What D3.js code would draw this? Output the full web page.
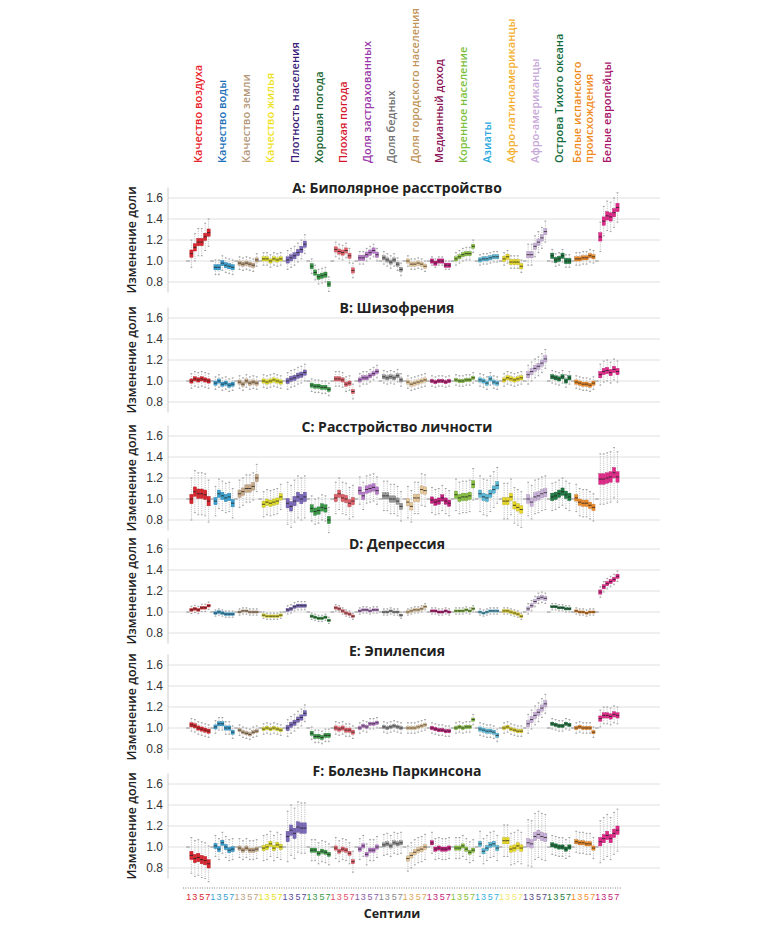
<!DOCTYPE html>
<html>
<head>
<meta charset="utf-8">
<script src="https://cdn.jsdelivr.net/npm/d3@7"></script>
<style>
  body { margin: 0; background: #fff; }
</style>
</head>
<body>
<svg id="chart"></svg>
<script>
// Categories (top labels), one group of 7 septiles each
const categories = [
  "Качество воздуха", "Качество воды", "Качество земли", "Качество жилья",
  "Плотность населения", "Хорошая погода", "Плохая погода", "Доля застрахованных",
  "Доля бедных", "Доля городского населения", "Медианный доход", "Коренное население",
  "Азиаты", "Афро-латиноамериканцы", "Афро-американцы", "Острова Тихого океана",
  "Белые испанского|происхождения", "Белые европейцы"
];
const labelColors = ["#e8202a", "#1a6fb8", "#b5987a", "#eee21e", "#3c1a78", "#1a6630",
  "#d6182e", "#9a3aaa", "#707070", "#c0945a", "#8c1458", "#7cc040",
  "#28a8e0", "#f4b030", "#c8a8d8", "#0f6a3a", "#f08a1a", "#a8146a"];
const boxColors = ["#d9262e", "#3aa0d0", "#c8aa88", "#e0dc2a", "#7a68b8", "#3a9a48",
  "#e0606a", "#b678c8", "#999999", "#e8c898", "#c41c7c", "#88c040",
  "#5ab8d8", "#e8d828", "#c8b0d8", "#1e7a40", "#ec8a28", "#e02888"];
const tickColors = ["#d9262e", "#3aa0d0", "#c0a080", "#e8e020", "#5a4a9a", "#3a9a48",
  "#e0506a", "#8a5aaa", "#888888", "#e0a860", "#c41c7c", "#88c040",
  "#3ab0e0", "#f0e870", "#5a4a8a", "#1e7a40", "#f09030", "#c41c7c"];

const septileTicks = [1, 3, 5, 7];
const yTicks = [0.8, 1.0, 1.2, 1.4, 1.6];
const panelTitles = ["A: Биполярное расстройство", "B: Шизофрения", "C: Расстройство личности",
  "D: Депрессия", "E: Эпилепсия", "F: Болезнь Паркинсона"];

// Median ratio per septile (septile 1 = reference 1.0)
const bipolar = [
  [1.0, 1.07, 1.13, 1.18, 1.18, 1.23, 1.27],
  [1.0, 0.94, 0.94, 0.98, 0.96, 0.95, 0.94],
  [1.0, 0.98, 0.97, 0.98, 0.97, 0.96, 1.01],
  [1.0, 1.02, 1.02, 1.00, 1.02, 1.01, 1.02],
  [1.0, 1.01, 1.03, 1.05, 1.08, 1.11, 1.16],
  [1.0, 0.95, 0.89, 0.85, 0.86, 0.87, 0.78],
  [1.0, 1.11, 1.09, 1.08, 1.10, 1.05, 0.91],
  [1.0, 1.03, 1.03, 1.06, 1.08, 1.10, 1.06],
  [1.0, 1.03, 1.01, 0.99, 1.01, 0.97, 0.92],
  [1.0, 1.00, 0.97, 0.97, 0.98, 0.97, 0.95],
  [1.0, 1.00, 0.98, 1.00, 1.00, 0.96, 0.96],
  [1.0, 1.02, 1.04, 1.06, 1.07, 1.07, 1.14],
  [1.0, 1.01, 1.02, 1.02, 1.03, 1.04, 1.04],
  [1.0, 1.02, 1.04, 0.99, 0.99, 0.99, 0.95],
  [1.0, 1.06, 1.06, 1.14, 1.18, 1.22, 1.28],
  [1.0, 1.05, 1.01, 1.02, 1.05, 1.00, 1.00],
  [1.0, 1.02, 1.02, 1.03, 1.03, 1.05, 1.04],
  [1.0, 1.23, 1.38, 1.43, 1.42, 1.46, 1.51]
];
const bipolarBox = [0.035, 0.025, 0.02, 0.02, 0.03, 0.025, 0.025, 0.025, 0.02, 0.02, 0.02, 0.02, 0.02, 0.025, 0.03, 0.025, 0.02, 0.04];
const bipolarWhisker = [0.13, 0.07, 0.06, 0.06, 0.09, 0.07, 0.07, 0.06, 0.06, 0.05, 0.04, 0.06, 0.05, 0.06, 0.1, 0.06, 0.06, 0.14];

const schizo = [
  [1.0, 1.00, 1.02, 1.01, 1.02, 1.01, 1.00],
  [1.0, 0.98, 1.00, 0.97, 0.98, 0.96, 0.97],
  [1.0, 0.99, 0.97, 1.00, 0.98, 0.99, 0.98],
  [1.0, 1.00, 0.99, 1.00, 1.01, 1.00, 0.99],
  [1.0, 1.00, 1.02, 1.03, 1.05, 1.06, 1.08],
  [1.0, 0.96, 0.95, 0.95, 0.94, 0.94, 0.92],
  [1.0, 1.02, 1.02, 1.01, 0.97, 0.98, 0.90],
  [1.0, 1.01, 1.03, 1.03, 1.05, 1.07, 1.09],
  [1.0, 1.04, 1.03, 1.04, 1.03, 1.05, 1.01],
  [1.0, 0.99, 0.97, 0.98, 0.99, 1.00, 1.01],
  [1.0, 1.00, 0.99, 1.00, 1.00, 0.99, 1.00],
  [1.0, 1.01, 1.00, 1.00, 1.01, 1.01, 1.03],
  [1.0, 1.01, 1.00, 0.98, 1.02, 0.99, 0.98],
  [1.0, 1.01, 1.03, 1.02, 1.01, 1.02, 1.03],
  [1.0, 1.06, 1.09, 1.12, 1.14, 1.17, 1.21],
  [1.0, 1.04, 1.03, 1.02, 1.04, 1.00, 1.03],
  [1.0, 0.99, 0.98, 0.97, 0.97, 0.96, 0.98],
  [1.0, 1.06, 1.09, 1.10, 1.08, 1.11, 1.09]
];
const schizoBox = [0.02, 0.02, 0.02, 0.02, 0.025, 0.02, 0.02, 0.02, 0.02, 0.02, 0.015, 0.015, 0.02, 0.02, 0.03, 0.02, 0.02, 0.03];
const schizoWhisker = [0.07, 0.06, 0.06, 0.06, 0.08, 0.06, 0.07, 0.06, 0.06, 0.06, 0.05, 0.05, 0.06, 0.06, 0.09, 0.06, 0.06, 0.1];

const personality = [
  [1.0, 1.00, 1.07, 1.05, 1.05, 1.04, 0.98],
  [1.0, 0.98, 1.05, 1.03, 1.01, 1.02, 0.96],
  [1.0, 1.05, 1.07, 1.10, 1.10, 1.12, 1.20],
  [1.0, 0.95, 0.97, 0.96, 0.97, 0.98, 1.02],
  [1.0, 0.96, 0.93, 0.98, 1.02, 1.00, 1.02],
  [1.0, 0.91, 0.88, 0.89, 0.92, 0.91, 0.80],
  [1.0, 1.01, 1.05, 1.01, 1.00, 0.96, 0.98],
  [1.0, 1.08, 1.03, 1.09, 1.10, 1.11, 1.08],
  [1.0, 1.03, 1.03, 1.00, 1.00, 0.98, 0.93],
  [1.0, 0.97, 0.93, 1.01, 1.01, 1.09, 1.08],
  [1.0, 0.99, 0.97, 0.98, 1.01, 0.98, 0.96],
  [1.0, 1.04, 1.01, 1.02, 1.02, 1.03, 1.14],
  [1.0, 1.05, 1.02, 1.01, 1.05, 1.09, 1.13],
  [1.0, 0.98, 0.98, 1.02, 0.94, 0.92, 0.90],
  [1.0, 1.00, 0.97, 1.02, 1.03, 1.05, 1.06],
  [1.0, 1.02, 1.03, 1.05, 1.07, 1.04, 1.02],
  [1.0, 1.01, 0.97, 0.96, 0.96, 0.94, 0.92],
  [1.0, 1.19, 1.19, 1.20, 1.21, 1.25, 1.21]
];
const personalityBox = [0.045, 0.035, 0.035, 0.03, 0.045, 0.035, 0.035, 0.035, 0.03, 0.035, 0.03, 0.035, 0.035, 0.035, 0.04, 0.035, 0.03, 0.05];
const personalityWhisker = [0.2, 0.14, 0.13, 0.12, 0.2, 0.12, 0.15, 0.13, 0.14, 0.15, 0.12, 0.15, 0.17, 0.17, 0.16, 0.13, 0.13, 0.24];

const depression = [
  [1.0, 1.02, 1.03, 1.02, 1.04, 1.04, 1.06],
  [1.0, 0.99, 1.00, 0.99, 0.98, 0.98, 0.98],
  [1.0, 1.00, 1.01, 1.01, 1.00, 1.00, 1.00],
  [1.0, 0.97, 0.96, 0.96, 0.96, 0.96, 0.97],
  [1.0, 1.02, 1.03, 1.05, 1.06, 1.06, 1.06],
  [1.0, 0.96, 0.95, 0.94, 0.94, 0.95, 0.92],
  [1.0, 1.04, 1.03, 1.01, 0.99, 0.98, 0.96],
  [1.0, 1.01, 1.02, 1.02, 1.01, 1.02, 1.02],
  [1.0, 1.00, 1.00, 1.01, 1.00, 1.00, 0.97],
  [1.0, 1.00, 1.01, 1.02, 1.02, 1.03, 1.05],
  [1.0, 1.01, 1.01, 1.00, 1.00, 1.01, 1.00],
  [1.0, 1.01, 1.01, 1.01, 1.02, 1.01, 1.03],
  [1.0, 1.00, 0.99, 1.00, 1.01, 1.01, 1.01],
  [1.0, 1.01, 1.01, 1.00, 0.99, 0.98, 0.96],
  [1.0, 1.03, 1.06, 1.10, 1.13, 1.14, 1.13],
  [1.0, 1.05, 1.05, 1.04, 1.04, 1.03, 1.03],
  [1.0, 1.01, 1.00, 1.00, 0.99, 1.00, 1.00],
  [1.0, 1.19, 1.24, 1.27, 1.29, 1.31, 1.34]
];
const depressionBox = [0.012, 0.012, 0.01, 0.012, 0.015, 0.012, 0.012, 0.01, 0.01, 0.012, 0.01, 0.01, 0.01, 0.012, 0.018, 0.01, 0.01, 0.02];
const depressionWhisker = [0.035, 0.03, 0.03, 0.03, 0.04, 0.03, 0.03, 0.03, 0.03, 0.03, 0.03, 0.03, 0.03, 0.03, 0.05, 0.03, 0.03, 0.05];

const epilepsy = [
  [1.0, 1.03, 1.02, 1.00, 0.99, 0.98, 0.97],
  [1.0, 1.01, 1.04, 1.04, 1.00, 1.00, 0.96],
  [1.0, 0.98, 0.96, 0.95, 0.94, 0.96, 0.97],
  [1.0, 0.99, 1.00, 0.99, 1.00, 0.99, 0.98],
  [1.0, 1.00, 1.03, 1.05, 1.08, 1.10, 1.14],
  [1.0, 0.95, 0.92, 0.92, 0.91, 0.93, 0.93],
  [1.0, 1.00, 0.99, 1.00, 0.98, 0.98, 0.96],
  [1.0, 1.00, 1.02, 1.01, 1.04, 1.04, 1.05],
  [1.0, 1.01, 1.00, 1.01, 1.02, 1.01, 1.00],
  [1.0, 1.00, 1.00, 1.00, 1.01, 1.02, 1.03],
  [1.0, 1.00, 0.99, 0.98, 0.98, 0.97, 0.97],
  [1.0, 1.00, 1.01, 1.00, 1.01, 1.01, 1.08],
  [1.0, 0.99, 0.98, 0.97, 0.97, 0.96, 0.93],
  [1.0, 1.00, 1.01, 0.99, 0.98, 0.97, 0.97],
  [1.0, 1.04, 1.08, 1.12, 1.15, 1.19, 1.23],
  [1.0, 1.04, 1.03, 1.02, 1.02, 1.04, 1.03],
  [1.0, 1.00, 1.01, 1.00, 1.00, 1.00, 0.96],
  [1.0, 1.09, 1.12, 1.12, 1.11, 1.13, 1.12]
];
const epilepsyBox = [0.02, 0.02, 0.015, 0.015, 0.025, 0.02, 0.02, 0.015, 0.015, 0.015, 0.015, 0.015, 0.02, 0.015, 0.03, 0.015, 0.015, 0.025];
const epilepsyWhisker = [0.06, 0.06, 0.05, 0.05, 0.08, 0.06, 0.06, 0.05, 0.05, 0.05, 0.05, 0.05, 0.06, 0.05, 0.09, 0.05, 0.05, 0.08];

const parkinson = [
  [1.0, 0.92, 0.89, 0.90, 0.88, 0.87, 0.84],
  [1.0, 1.01, 0.98, 1.04, 1.00, 0.97, 0.98],
  [1.0, 0.99, 0.97, 0.99, 0.97, 0.97, 0.98],
  [1.0, 0.99, 1.00, 1.03, 0.99, 1.02, 1.00],
  [1.0, 1.10, 1.16, 1.13, 1.19, 1.18, 1.18],
  [1.0, 0.97, 0.97, 0.94, 0.96, 0.95, 0.93],
  [1.0, 0.99, 0.96, 0.98, 0.97, 0.94, 0.86],
  [1.0, 0.98, 1.01, 0.93, 0.97, 0.97, 1.00],
  [1.0, 1.02, 1.03, 1.01, 1.04, 1.03, 1.04],
  [1.0, 0.89, 0.92, 0.95, 0.97, 0.98, 1.00],
  [1.0, 1.04, 0.98, 0.99, 0.98, 0.98, 0.99],
  [1.0, 0.99, 0.99, 1.01, 0.98, 0.95, 0.97],
  [1.0, 1.03, 0.96, 0.99, 1.02, 1.03, 0.99],
  [1.0, 1.06, 1.06, 0.98, 0.99, 1.01, 0.99],
  [1.0, 1.04, 1.03, 1.10, 1.12, 1.10, 1.09],
  [1.0, 1.02, 1.01, 1.00, 1.00, 0.98, 1.00],
  [1.0, 1.05, 1.04, 1.04, 1.03, 1.03, 0.99],
  [1.0, 1.05, 1.08, 1.11, 1.08, 1.13, 1.16]
];
const parkinsonBox = [0.04, 0.025, 0.02, 0.025, 0.05, 0.02, 0.02, 0.02, 0.02, 0.025, 0.02, 0.02, 0.025, 0.03, 0.04, 0.02, 0.02, 0.04];
const parkinsonWhisker = [0.17, 0.1, 0.09, 0.12, 0.24, 0.1, 0.1, 0.1, 0.1, 0.12, 0.1, 0.1, 0.12, 0.15, 0.22, 0.09, 0.1, 0.2];

const panels = [
  { med: bipolar, box: bipolarBox, whisk: bipolarWhisker },
  { med: schizo, box: schizoBox, whisk: schizoWhisker },
  { med: personality, box: personalityBox, whisk: personalityWhisker },
  { med: depression, box: depressionBox, whisk: depressionWhisker },
  { med: epilepsy, box: epilepsyBox, whisk: epilepsyWhisker },
  { med: parkinson, box: parkinsonBox, whisk: parkinsonWhisker }
];

// Layout
const width = 768, height = 936;
const panelTop = [198, 318, 436, 549, 665, 784];   // y of the 1.6 gridline
const titleY = [193, 313, 432, 549, 656, 776];
const plotLeft = 168, plotRight = 660;
const nSept = 7;

const svg = d3.select("#chart")
  .attr("width", width)
  .attr("height", height)
  .style("font-family", "'Open Sans', sans-serif");

const xScale = d3.scaleLinear()
  .domain([0, categories.length * nSept - 1])
  .range([188, 617.5]);
const xPos = (g, s) => xScale(g * nSept + s);
const boxW = 3.2;

// Top category labels (rotated)
const labels = svg.append("g");
categories.forEach(function(c, g) {
  const lines = c.split("|");
  const cx = xPos(g, 3);
  lines.forEach(function(line, j) {
    const x = cx + 4 + (lines.length > 1 ? (j === 0 ? -6 : 6) : 0);
    labels.append("text")
      .attr("transform", `translate(${x}, 163) rotate(-90)`)
      .attr("text-anchor", "start")
      .style("font-size", "11px")
      .style("font-weight", 600)
      .attr("fill", labelColors[g])
      .text(line);
  });
});

// Panels
panels.forEach(function(p, pi) {
  const top = panelTop[pi];
  const yScale = d3.scaleLinear()
    .domain([0.8, 1.6])
    .range([top + 84, top]);

  const g = svg.append("g");

  // gridlines
  g.selectAll(".grid")
    .data(yTicks)
    .enter().append("line")
    .attr("x1", plotLeft).attr("x2", plotRight)
    .attr("y1", d => yScale(d)).attr("y2", d => yScale(d))
    .attr("stroke", "#dcdcdc")
    .attr("stroke-width", 0.9);

  // y axis
  const axis = g.append("g")
    .attr("transform", `translate(${plotLeft}, 0)`)
    .call(d3.axisLeft(yScale).tickValues(yTicks).tickFormat(d3.format(".1f")).tickSize(0).tickPadding(5));
  axis.select(".domain").attr("stroke", "#ccc").attr("d", `M0,${yScale(1.7)}V${yScale(0.7)}`);
  axis.selectAll("text")
    .style("font-family", "'Liberation Sans', Arial, sans-serif")
    .style("font-size", "12px")
    .attr("fill", "#333");

  // y label
  g.append("text")
    .attr("transform", `translate(136, ${top + 42}) rotate(-90)`)
    .attr("text-anchor", "middle")
    .style("font-size", "12.5px")
    .style("font-weight", 600)
    .attr("fill", "#222")
    .text("Изменение доли");

  // title
  g.append("text")
    .attr("x", 397).attr("y", titleY[pi])
    .attr("text-anchor", "middle")
    .style("font-size", "14px")
    .style("font-weight", "bold")
    .attr("fill", "#222")
    .text(panelTitles[pi]);

  // boxes
  p.med.forEach(function(vals, gi) {
    const bh = p.box[gi], wh = p.whisk[gi];
    vals.forEach(function(v, s) {
      const x = xPos(gi, s);
      if (s === 0) {
        g.append("line")
          .attr("x1", x - 1.8).attr("x2", x + 1.8)
          .attr("y1", yScale(v)).attr("y2", yScale(v))
          .attr("stroke", "#777").attr("stroke-width", 0.8);
        return;
      }
      // whisker
      g.append("line")
        .attr("x1", x).attr("x2", x)
        .attr("y1", yScale(v + wh)).attr("y2", yScale(v - wh))
        .attr("stroke", "#aaa").attr("stroke-width", 0.7)
        .attr("stroke-dasharray", "1.2,1");
      [v + wh, v - wh].forEach(function(e) {
        g.append("line")
          .attr("x1", x - 0.9).attr("x2", x + 0.9)
          .attr("y1", yScale(e)).attr("y2", yScale(e))
          .attr("stroke", "#999").attr("stroke-width", 0.9);
      });
      // box
      g.append("rect")
        .attr("x", x - boxW / 2)
        .attr("width", boxW)
        .attr("y", yScale(v + bh))
        .attr("height", yScale(v - bh) - yScale(v + bh))
        .attr("fill", boxColors[gi])
        .attr("stroke", d3.color(boxColors[gi]).darker(0.6))
        .attr("stroke-width", 0.4);
      // median
      g.append("line")
        .attr("x1", x - boxW / 2).attr("x2", x + boxW / 2)
        .attr("y1", yScale(v)).attr("y2", yScale(v))
        .attr("stroke", "#222").attr("stroke-width", 0.8);
    });
  });
});

// bottom septile axis
const bottom = svg.append("g");
bottom.append("line")
  .attr("x1", 183).attr("x2", 622)
  .attr("y1", 888).attr("y2", 888)
  .attr("stroke", "#999")
  .attr("stroke-width", 1.5)
  .attr("stroke-dasharray", "0.8,1.6");

// nudge the outer ticks so that neighbouring groups do not collide
const tickNudge = { 1: 0.8, 3: 0, 5: 0, 7: -0.8 };
categories.forEach(function(c, g) {
  bottom.selectAll(null)
    .data(septileTicks)
    .enter().append("text")
    .attr("x", d => xPos(g, d - 1) + tickNudge[d])
    .attr("y", 900)
    .attr("text-anchor", "middle")
    .style("font-family", "'Liberation Sans', Arial, sans-serif")
    .style("font-size", "9px")
    .attr("fill", tickColors[g])
    .text(d => d);
});

bottom.append("text")
  .attr("x", 392).attr("y", 918)
  .attr("text-anchor", "middle")
  .style("font-size", "12.5px")
  .style("font-weight", "bold")
  .attr("fill", "#222")
  .text("Септили");
</script>
</body>
</html>
